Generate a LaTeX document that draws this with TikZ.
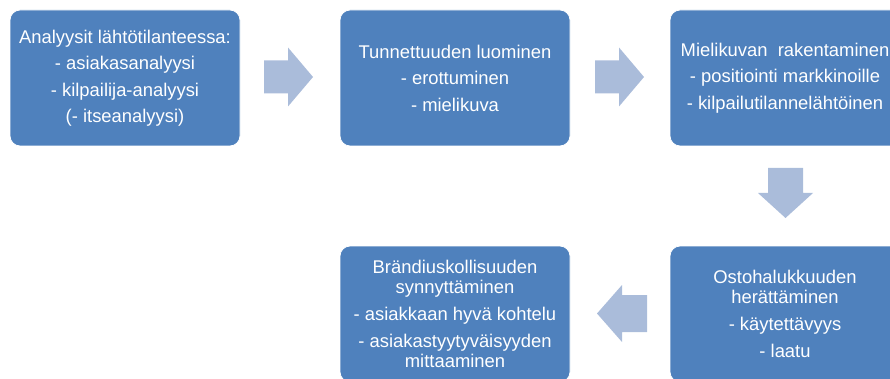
\documentclass[tikz,border=0pt]{standalone}
\usepackage{fontspec}
\setmainfont{Liberation Sans}
\definecolor{boxblue}{HTML}{4F81BD}
\definecolor{arrowblue}{HTML}{AABCDA}
\begin{document}
\begin{tikzpicture}[x=1pt,y=-1pt,
  stage/.style={rectangle, rounded corners=10pt, fill=boxblue, draw=white, line width=0.8pt,
    minimum width=230pt, minimum height=136pt, text=white, align=center,
    font=\fontsize{18.4}{20}\selectfont, inner sep=0pt},
  flowarrow/.style={fill=arrowblue}]
\useasboundingbox (0,0) rectangle (890,379);
\clip (0,0) rectangle (890,379);
\node[stage] (b1) at (125,78) {Analyysit lähtötilanteessa:\\[6.5pt] - asiakasanalyysi\\[6.5pt] - kilpailija-analyysi\\[6.5pt] (- itseanalyysi)};
\node[stage] (b2) at (455,78) {Tunnettuuden luominen\\[6.5pt] - erottuminen\\[6.5pt] - mielikuva};
\node[stage] (b3) at (785,78) {Mielikuvan\ \ rakentaminen\\[6.5pt] - positiointi markkinoille\\[6.5pt] - kilpailutilannelähtöinen};
\node[stage] (b4) at (785,314) {Ostohalukkuuden\\ herättäminen\\[7pt] - käytettävyys\\[7pt] - laatu};
\node[stage] (b5) at (455,314) {Brändiuskollisuuden\\ synnyttäminen\\[7pt] - asiakkaan hyvä kohtelu\\[7pt] - asiakastyytyväisyyden\\ mittaaminen};
% right arrows
\coordinate (a1) at (264,77.5);
\coordinate (a2) at (595,77.5);
\foreach \c in {a1,a2}{
  \fill[flowarrow] (\c) ++(0,-17) -- ++(24,0) -- ++(0,-13) -- ++(25,29.5) -- ++(-25,29.5) -- ++(0,-13) -- ++(-24,0) -- cycle;
}
% down arrow
\coordinate (a3) at (785.5,168);
\fill[flowarrow] (a3) ++(-17.5,0) -- ++(35,0) -- ++(0,25) -- ++(10,0) -- ++(-27.5,25) -- ++(-27.5,-25) -- ++(10,0) -- cycle;
% left arrow
\coordinate (a4) at (647,313.5);
\fill[flowarrow] (a4) ++(0,-18.5) -- ++(0,37) -- ++(-25,0) -- ++(0,10) -- ++(-25,-28.5) -- ++(25,-28.5) -- ++(0,10) -- cycle;
\end{tikzpicture}
\end{document}
